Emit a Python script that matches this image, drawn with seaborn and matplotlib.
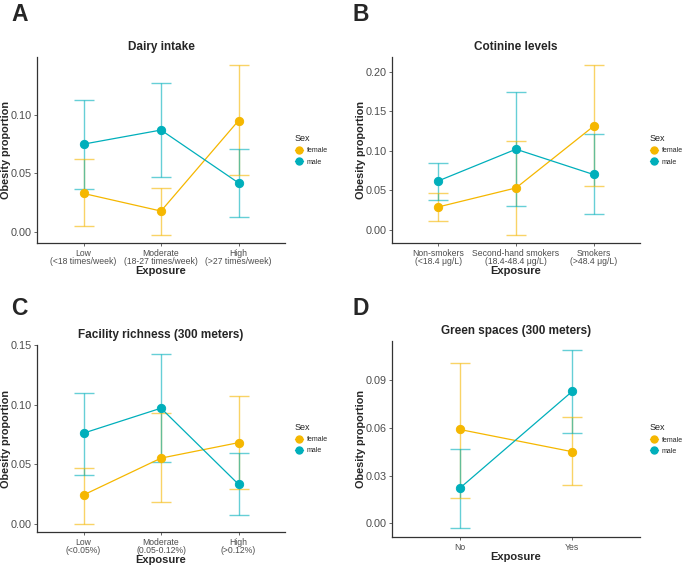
import pandas as pd
import numpy as np
import matplotlib
matplotlib.use("Agg")
import matplotlib.pyplot as plt
import seaborn as sns
from matplotlib.lines import Line2D

# ---------- DATA ----------

sexes = ["female", "male"]

# A - Dairy intake
a_title = "Dairy intake"
a_cats = ["Low\n(<18 times/week)", "Moderate\n(18-27 times/week)", "High\n(>27 times/week)"]
a_female = [0.033, 0.018, 0.095]
a_female_lo = [0.005, -0.002, 0.049]
a_female_hi = [0.062, 0.038, 0.142]
a_male = [0.075, 0.087, 0.042]
a_male_lo = [0.037, 0.047, 0.013]
a_male_hi = [0.113, 0.127, 0.071]
a_ticks = [0.00, 0.05, 0.10]

# B - Cotinine levels
b_title = "Cotinine levels"
b_cats = ["Non-smokers\n(<18.4 \u03bcg/L)", "Second-hand smokers\n(18.4-48.4 \u03bcg/L)", "Smokers\n(>48.4 \u03bcg/L)"]
b_female = [0.029, 0.053, 0.131]
b_female_lo = [0.011, -0.006, 0.055]
b_female_hi = [0.047, 0.112, 0.208]
b_male = [0.062, 0.102, 0.070]
b_male_lo = [0.038, 0.030, 0.020]
b_male_hi = [0.085, 0.175, 0.121]
b_ticks = [0.00, 0.05, 0.10, 0.15, 0.20]

# C - Facility richness
c_title = "Facility richness (300 meters)"
c_cats = ["Low\n(<0.05%)", "Moderate\n(0.05-0.12%)", "High\n(>0.12%)"]
c_female = [0.024, 0.055, 0.068]
c_female_lo = [0.000, 0.018, 0.029]
c_female_hi = [0.047, 0.093, 0.107]
c_male = [0.076, 0.097, 0.033]
c_male_lo = [0.041, 0.052, 0.007]
c_male_hi = [0.110, 0.143, 0.059]
c_ticks = [0.00, 0.05, 0.10, 0.15]

# D - Green spaces
d_title = "Green spaces (300 meters)"
d_cats = ["No", "Yes"]
d_female = [0.059, 0.045]
d_female_lo = [0.016, 0.024]
d_female_hi = [0.101, 0.067]
d_male = [0.022, 0.083]
d_male_lo = [-0.003, 0.057]
d_male_hi = [0.047, 0.109]
d_ticks = [0.00, 0.03, 0.06, 0.09]

colors = {"female": "#F5B700", "male": "#00AFBB"}

# ---------- STYLE ----------

sns.set_style("ticks")
plt.rcParams['font.family'] = ['Liberation Sans', 'DejaVu Sans']

W, H = 685.0, 566.0


def rect_px(x0, y0, x1, y1):
    return [x0 / W, 1 - y1 / H, (x1 - x0) / W, (y1 - y0) / H]


def make_df(cats, fem, fem_lo, fem_hi, mal, mal_lo, mal_hi):
    rows = []
    for sex, v, lo, hi in [("female", fem, fem_lo, fem_hi), ("male", mal, mal_lo, mal_hi)]:
        for i, c in enumerate(cats):
            rows.append({"Exposure": c, "Sex": sex, "prop": v[i], "lo": lo[i], "hi": hi[i]})
    return pd.DataFrame(rows)


def draw_panel(fig, rect, letter, letter_xy, title, cats, df, ticks):
    ax = fig.add_axes(rect)

    # error bars
    for sex in sexes:
        sub = df[df["Sex"] == sex]
        xpos = np.arange(len(cats))
        ax.errorbar(
            xpos, sub["prop"],
            yerr=[sub["prop"] - sub["lo"], sub["hi"] - sub["prop"]],
            fmt="none", ecolor=colors[sex], elinewidth=1.0,
            capsize=7.5, capthick=1.0, alpha=0.6, zorder=2
        )

    sns.pointplot(
        data=df, x="Exposure", y="prop", hue="Sex",
        order=cats, hue_order=sexes, palette=colors,
        errorbar=None, markers="o", markersize=6,
        linewidth=0.9, ax=ax, legend=False
    )
    for ln in ax.lines:
        ln.set_zorder(3)

    n = len(cats)
    ax.set_xlim(-0.6, n - 1 + 0.6)
    lo = df["lo"].min()
    hi = df["hi"].max()
    pad = (hi - lo) * 0.05
    ax.set_ylim(lo - pad, hi + pad)
    ax.set_yticks(ticks)
    ax.set_yticklabels([f"{t:.2f}" for t in ticks])
    ax.set_xticks(range(n))
    ax.set_xticklabels(cats, linespacing=0.95)

    ax.set_title(title, fontsize=8.5, fontweight="bold", pad=5)
    ax.set_xlabel("Exposure", fontsize=8, fontweight="bold", labelpad=0)
    ax.set_ylabel("Obesity proportion", fontsize=7.8, fontweight="bold")
    # right edge of the rotated label sits ~26 px left of the spine
    ax.yaxis.set_label_coords(-26 / (rect[2] * W), 0.5)

    ax.tick_params(axis="y", labelsize=7.8, colors="#4D4D4D", length=2.5, width=0.6, pad=1.5)
    ax.tick_params(axis="x", labelsize=6.2, colors="#4D4D4D", length=2.5, width=0.6, pad=1.5)
    for s in ["left", "bottom"]:
        ax.spines[s].set_linewidth(0.9)
        ax.spines[s].set_color("#333333")
    sns.despine(ax=ax)

    handles = [
        Line2D([0], [0], color=colors[s], marker="o", markersize=5, linewidth=1.0, label=s)
        for s in sexes
    ]
    leg = ax.legend(
        handles=handles, title="Sex", loc="center left",
        bbox_to_anchor=(1.02, 0.5), frameon=False,
        fontsize=5, title_fontsize=6.5, handlelength=1.2,
        handletextpad=0.5, labelspacing=0.6, borderpad=0.2
    )
    leg._legend_box.align = "left"

    fig.text(letter_xy[0] / W, 1 - letter_xy[1] / H, letter,
             fontsize=16.5, fontweight="bold", va="baseline", ha="left")
    return ax


fig = plt.figure(figsize=(6.85, 5.66), dpi=100)

df_a = make_df(a_cats, a_female, a_female_lo, a_female_hi, a_male, a_male_lo, a_male_hi)
df_b = make_df(b_cats, b_female, b_female_lo, b_female_hi, b_male, b_male_lo, b_male_hi)
df_c = make_df(c_cats, c_female, c_female_lo, c_female_hi, c_male, c_male_lo, c_male_hi)
df_d = make_df(d_cats, d_female, d_female_lo, d_female_hi, d_male, d_male_lo, d_male_hi)

draw_panel(fig, rect_px(37, 57, 285, 243), "A", (11, 21), a_title, a_cats, df_a, a_ticks)
draw_panel(fig, rect_px(392, 57, 640, 243), "B", (353, 21), b_title, b_cats, df_b, b_ticks)
draw_panel(fig, rect_px(37, 345, 285, 532), "C", (11, 315), c_title, c_cats, df_c, c_ticks)
draw_panel(fig, rect_px(392, 341, 640, 537), "D", (353, 315), d_title, d_cats, df_d, d_ticks)

fig.savefig("out.png", dpi=100)
